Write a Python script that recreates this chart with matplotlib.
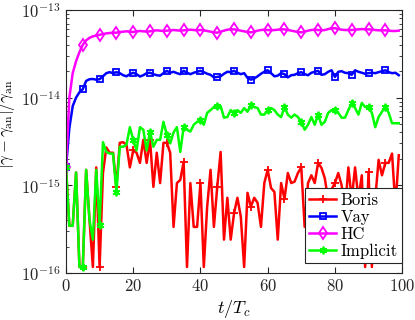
import matplotlib
matplotlib.use("Agg")
import matplotlib.pyplot as plt
import numpy as np

plt.rcParams["font.family"] = "serif"
plt.rcParams["font.serif"] = ["cmr10", "DejaVu Serif"]
plt.rcParams["mathtext.fontset"] = "cm"
plt.rcParams["axes.formatter.use_mathtext"] = True

t = np.arange(0, 100)

boris = [1.6e-15, 3.45e-16, 3.45e-16, 1.4e-15, 1.17e-16, 1.17e-16, 1.5e-15, 4.0e-16, 1.17e-16, 1.6e-15,
         1.17e-16, 1.38e-15, 2.7e-15, 2.35e-15, 2.35e-15, 9.6e-16, 3.05e-15, 3.1e-15, 2.9e-15, 1.6e-15,
         2.5e-15, 2.35e-15, 1.8e-15, 3.3e-15, 1.8e-15, 3.3e-15, 9.6e-16, 2.35e-15, 1.06e-15, 3.05e-15,
         3.05e-15, 2.35e-15, 3.35e-16, 1.06e-15, 1.15e-15, 1.85e-15, 1.17e-16, 1.06e-15, 3.35e-16, 3.35e-16,
         1.06e-15, 1.17e-16, 5.7e-16, 1.5e-15, 3.35e-16, 9.6e-16, 2.4e-15, 2.4e-16, 7.2e-16, 2.4e-16,
         4.8e-16, 7.2e-16, 4.4e-16, 1.17e-16, 8.2e-16, 5.7e-16, 7.2e-16, 6.3e-16, 3.35e-16, 1.06e-15,
         1.5e-15, 9.3e-16, 8.4e-16, 2.4e-16, 1.06e-15, 7.0e-16, 1.38e-15, 1.06e-15, 1.1e-15, 1.38e-15,
         1.6e-15, 3.35e-16, 1.06e-15, 1.3e-15, 1.06e-15, 1.8e-15, 1.58e-15, 1.2e-15, 6.8e-16, 9.0e-16,
         1.06e-15, 1.38e-15, 1.0e-15, 5.0e-16, 1.6e-15, 7.0e-16, 1.6e-15, 7.0e-16, 1.3e-15, 1.17e-16,
         1.42e-15, 1.17e-16, 7.0e-16, 1.95e-15, 1.3e-15, 1.8e-15, 1.8e-15, 2.3e-15, 5.7e-16, 2.2e-15]

vay = [1.6e-15, 4.5e-15, 8.0e-15, 1.0e-14, 1.15e-14, 1.25e-14, 1.55e-14, 1.62e-14, 1.63e-14, 1.6e-14,
       1.62e-14, 1.75e-14, 1.9e-14, 1.95e-14, 1.9e-14, 1.95e-14, 1.9e-14, 1.8e-14, 1.75e-14, 1.85e-14,
       1.92e-14, 1.85e-14, 1.74e-14, 1.8e-14, 1.9e-14, 1.92e-14, 1.85e-14, 1.8e-14, 1.78e-14, 1.9e-14,
       2.02e-14, 1.92e-14, 1.97e-14, 1.9e-14, 1.85e-14, 2.02e-14, 1.92e-14, 1.85e-14, 1.92e-14, 1.97e-14,
       2.02e-14, 1.95e-14, 1.87e-14, 1.82e-14, 1.7e-14, 1.72e-14, 1.75e-14, 1.87e-14, 1.97e-14, 1.95e-14,
       2.02e-14, 1.92e-14, 1.85e-14, 1.9e-14, 1.68e-14, 1.6e-14, 1.65e-14, 1.75e-14, 1.87e-14, 1.97e-14,
       2.05e-14, 1.9e-14, 1.75e-14, 1.78e-14, 1.9e-14, 1.85e-14, 1.7e-14, 1.8e-14, 1.82e-14, 1.9e-14,
       1.95e-14, 1.85e-14, 1.8e-14, 1.92e-14, 1.97e-14, 2.02e-14, 1.82e-14, 1.85e-14, 1.97e-14, 2.05e-14,
       1.72e-14, 1.97e-14, 2.0e-14, 1.92e-14, 1.9e-14, 1.82e-14, 2.05e-14, 1.97e-14, 1.92e-14, 1.87e-14,
       1.9e-14, 1.92e-14, 1.9e-14, 1.95e-14, 2.0e-14, 2.05e-14, 1.95e-14, 1.9e-14, 1.92e-14, 1.8e-14]

hc = [1.6e-15, 1.0e-14, 1.9e-14, 2.6e-14, 3.3e-14, 4.0e-14, 4.5e-14, 4.8e-14, 5.0e-14, 5.1e-14,
      5.2e-14, 5.3e-14, 5.4e-14, 5.45e-14, 5.5e-14, 5.5e-14, 5.6e-14, 5.65e-14, 5.7e-14, 5.65e-14,
      5.6e-14, 5.7e-14, 5.75e-14, 5.7e-14, 5.65e-14, 5.7e-14, 5.8e-14, 5.85e-14, 5.8e-14, 5.75e-14,
      5.8e-14, 5.85e-14, 5.9e-14, 5.85e-14, 5.8e-14, 5.85e-14, 5.9e-14, 5.95e-14, 5.9e-14, 5.85e-14,
      5.9e-14, 5.85e-14, 5.75e-14, 5.65e-14, 5.55e-14, 5.5e-14, 5.65e-14, 5.8e-14, 5.95e-14, 6.0e-14,
      6.0e-14, 5.9e-14, 5.8e-14, 5.7e-14, 5.6e-14, 5.55e-14, 5.65e-14, 5.8e-14, 5.9e-14, 5.95e-14,
      5.9e-14, 5.85e-14, 5.9e-14, 5.95e-14, 6.0e-14, 6.0e-14, 5.9e-14, 5.8e-14, 5.7e-14, 5.6e-14,
      5.55e-14, 5.65e-14, 5.8e-14, 5.9e-14, 5.95e-14, 5.9e-14, 5.85e-14, 5.9e-14, 6.05e-14, 6.15e-14,
      6.2e-14, 6.05e-14, 5.95e-14, 5.9e-14, 5.9e-14, 5.9e-14, 5.95e-14, 6.0e-14, 6.05e-14, 6.0e-14,
      6.0e-14, 5.95e-14, 5.9e-14, 5.85e-14, 5.85e-14, 5.85e-14, 5.8e-14, 5.75e-14, 5.75e-14, 5.8e-14]

implicit = [1.6e-15, 3.45e-16, 3.45e-16, 1.4e-15, 1.17e-16, 1.17e-16, 1.5e-15, 4.0e-16, 2.4e-16, 1.5e-15,
            3.5e-16, 3.1e-15, 2.4e-15, 2.3e-15, 2.3e-15, 8.4e-16, 2.75e-15, 2.75e-15, 2.9e-15, 4.6e-15,
            3.3e-15, 2.5e-15, 4.6e-15, 4.3e-15, 2.5e-15, 4.1e-15, 2.75e-15, 3.3e-15, 3.3e-15, 5.3e-15,
            3.75e-15, 3.0e-15, 4.0e-15, 4.6e-15, 2.4e-15, 4.6e-15, 4.3e-15, 4.1e-15, 4.9e-15, 5.3e-15,
            5.5e-15, 4.9e-15, 6.7e-15, 7.2e-15, 7.8e-15, 8.0e-15, 8.0e-15, 5.9e-15, 6.0e-15, 7.2e-15,
            6.7e-15, 7.2e-15, 6.7e-15, 7.6e-15, 6.9e-15, 8.3e-15, 7.8e-15, 7.6e-15, 6.4e-15, 6.4e-15,
            7.2e-15, 7.6e-15, 7.2e-15, 6.4e-15, 6.0e-15, 7.8e-15, 6.4e-15, 5.9e-15, 6.4e-15, 6.0e-15,
            5.3e-15, 4.3e-15, 4.9e-15, 6.0e-15, 4.9e-15, 6.4e-15, 4.9e-15, 5.3e-15, 6.7e-15, 7.2e-15,
            7.2e-15, 6.7e-15, 5.9e-15, 5.9e-15, 7.2e-15, 8.7e-15, 7.6e-15, 6.4e-15, 8.7e-15, 7.8e-15,
            7.8e-15, 6.7e-15, 4.6e-15, 6.0e-15, 6.9e-15, 7.8e-15, 6.7e-15, 5.1e-15, 5.1e-15, 5.1e-15]

fig = plt.figure(figsize=(4.15, 3.2), dpi=100)
ax = fig.add_axes([0.159, 0.147, 0.81, 0.822])

lw = 1.8
ax.semilogy(t, boris, color=(1, 0, 0), lw=lw, marker="+", ms=6, mew=1.3, markevery=5, label="Boris")
ax.semilogy(t, vay, color=(0, 0, 1), lw=lw, marker="s", ms=4.5, mew=1.3, mfc="none", markevery=5, label="Vay")
ax.semilogy(t, hc, color=(1, 0, 1), lw=lw, marker="d", ms=6.5, mew=1.3, mfc="none", markevery=5, label="HC")
ax.semilogy(t, implicit, color=(0, 1, 0), lw=lw, marker=(6, 2, 0), ms=5.5, mew=1.3, markevery=5, label="Implicit")

ax.set_xlim(0, 100)
ax.set_ylim(1e-16, 1e-13)
ax.set_xticks([0, 20, 40, 60, 80, 100])
ax.tick_params(which="both", direction="in", top=True, right=True, labelsize=12, colors="0.15")
ax.tick_params(axis="y", pad=4)
ax.tick_params(which="major", length=4)
ax.tick_params(which="minor", length=2.5)
for s in ax.spines.values():
    s.set_color("0.15")
    s.set_linewidth(0.8)

ax.set_xlabel(r"$t/T_c$", fontsize=13, labelpad=3)
ax.set_ylabel(r"$|\gamma-\gamma_{\rm an}|/\gamma_{\rm an}$", fontsize=12)
ax.yaxis.set_label_coords(-0.145, 0.567)

leg = ax.legend(loc="lower right", bbox_to_anchor=(1.0, 0.038), borderaxespad=0, fancybox=False,
                framealpha=1, edgecolor="0.15", fontsize=12, handlelength=1.6, handletextpad=0.3,
                labelspacing=0.1, borderpad=0.25)
leg.get_frame().set_linewidth(0.8)

fig.savefig("out.png", dpi=100)
